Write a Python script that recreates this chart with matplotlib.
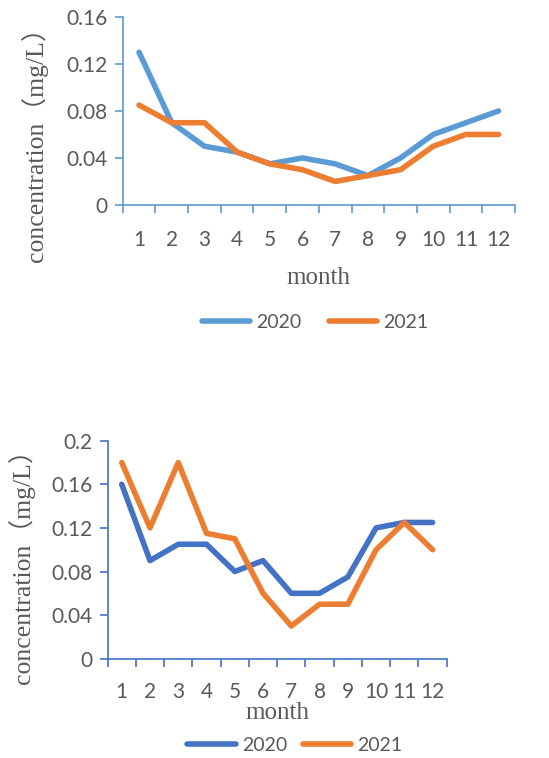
import matplotlib
matplotlib.use("Agg")
import matplotlib.pyplot as plt
from matplotlib.ticker import FixedLocator, NullFormatter

months = [1, 2, 3, 4, 5, 6, 7, 8, 9, 10, 11, 12]
month_labels = [str(m) for m in months]

# upper chart
top_2020 = [0.13, 0.07, 0.05, 0.045, 0.035, 0.04, 0.035, 0.025, 0.04, 0.06, 0.07, 0.08]
top_2021 = [0.085, 0.07, 0.07, 0.045, 0.035, 0.03, 0.02, 0.025, 0.03, 0.05, 0.06, 0.06]
top_yticks = [0, 0.04, 0.08, 0.12, 0.16]
top_ylabels = ["0", "0.04", "0.08", "0.12", "0.16"]

# lower chart
bot_2020 = [0.16, 0.09, 0.105, 0.105, 0.08, 0.09, 0.06, 0.06, 0.075, 0.12, 0.125, 0.125]
bot_2021 = [0.18, 0.12, 0.18, 0.115, 0.11, 0.06, 0.03, 0.05, 0.05, 0.10, 0.125, 0.10]
bot_yticks = [0, 0.04, 0.08, 0.12, 0.16, 0.2]
bot_ylabels = ["0", "0.04", "0.08", "0.12", "0.16", "0.2"]

grey = "#595959"
serif = ["Liberation Serif", "Noto Sans CJK SC"]
plt.rcParams["font.family"] = ["Lato", "DejaVu Sans"]

fig = plt.figure(figsize=(5.49, 7.58), dpi=100)


def draw(ax, y20, y21, c20, c21, axcol, yticks, ylabels, ymax, xpad, xlab_y, ylab_xy, leg_xy, colsp):
    l1, = ax.plot(months, y20, color=c20, lw=4, solid_capstyle="round", solid_joinstyle="round")
    l2, = ax.plot(months, y21, color=c21, lw=4, solid_capstyle="round", solid_joinstyle="round")
    ax.set_xlim(0.5, 12.5)
    ax.set_ylim(0, ymax)
    for s in ["top", "right"]:
        ax.spines[s].set_visible(False)
    for s in ["left", "bottom"]:
        ax.spines[s].set_color(axcol)
        ax.spines[s].set_linewidth(1.2)
    ax.set_yticks(yticks)
    ax.set_yticklabels(ylabels)
    ax.set_xticks(months)
    ax.set_xticklabels(month_labels)
    ax.xaxis.set_minor_locator(FixedLocator([m + 0.5 for m in [0] + months]))
    ax.xaxis.set_minor_formatter(NullFormatter())
    ax.tick_params(axis="x", which="major", length=0, pad=xpad, labelsize=15, labelcolor=grey)
    ax.tick_params(axis="x", which="minor", length=6, width=1.2, color=axcol, direction="out")
    ax.tick_params(axis="y", length=6, width=1.2, color=axcol, pad=5, labelsize=15, labelcolor=grey)
    ax.set_xlabel("month", family=serif, fontsize=18, color=grey)
    ax.xaxis.set_label_coords(0.5, xlab_y)
    ax.set_ylabel("concentration（mg/L）", family=serif, fontsize=18.5, color=grey)
    ax.yaxis.set_label_coords(*ylab_xy)
    fig.legend([l1, l2], ["2020", "2021"], loc="center", bbox_to_anchor=leg_xy,
               bbox_transform=fig.transFigure, ncol=2, frameon=False, fontsize=14,
               handlelength=2.5, handletextpad=0.3, columnspacing=colsp, labelcolor=grey)


ax1 = fig.add_axes([0.2235, 0.7296, 0.7145, 0.248])
draw(ax1, top_2020, top_2021, "#5B9BD5", "#ED7D31", "#5B9BD5",
     top_yticks, top_ylabels, 0.16, 18, -0.33, (-0.19, 0.355), (0.574, 0.575), 1.4)

ax2 = fig.add_axes([0.196, 0.131, 0.6177, 0.2876])
draw(ax2, bot_2020, bot_2021, "#4472C4", "#ED7D31", "#4472C4",
     bot_yticks, bot_ylabels, 0.2, 17, -0.2, (-0.215, 0.45), (0.537, 0.017), 0.8)

fig.savefig("out.png", dpi=100)
